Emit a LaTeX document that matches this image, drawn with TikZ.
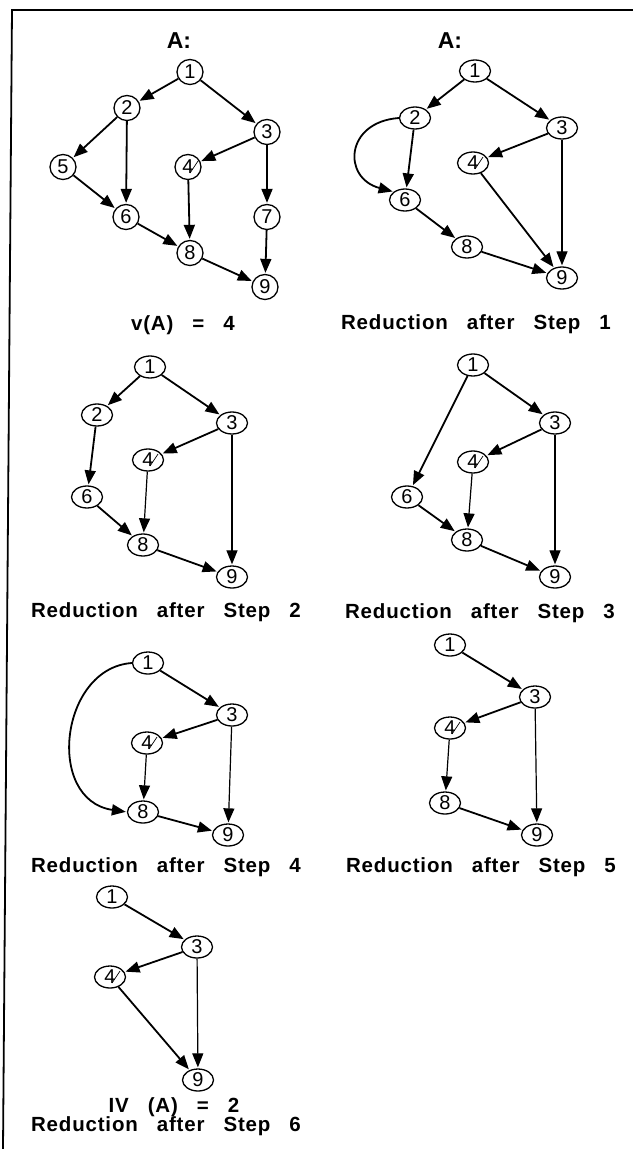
\documentclass[tikz,border=0pt]{standalone}
\usepackage{fontspec}
\setmainfont{Liberation Sans}
\newfontfamily\labfont[LetterSpace=4]{Liberation Sans}
\usetikzlibrary{shapes.geometric,arrows.meta}
\newcommand\crossout[1]{\draw[slashline] ([shift={(2,6)}]#1.center) -- ([shift={(10,-6)}]#1.center);}
\newcommand\wsp{\hspace{19pt}}
\begin{document}
\begin{tikzpicture}[x=1pt,y=-1pt,
 vtx/.style={draw,ellipse,line width=1.3pt,minimum width=31pt,minimum height=22pt,inner sep=0pt,font=\fontsize{20}{20}\selectfont},
 cvtx/.style={vtx,minimum width=26pt,minimum height=25pt},
 arr/.style={-{Triangle[length=14pt,width=11pt]},line width=1.8pt,shorten >=1pt},
 tarr/.style={arr,line width=1.2pt},
 lab/.style={anchor=base,font=\labfont\bfseries\fontsize{20.5}{22}\selectfont},
 ttl/.style={anchor=base,font=\bfseries\fontsize{23}{25}\selectfont},
 slashline/.style={line width=0.7pt}]
\useasboundingbox (0,0) rectangle (633,1149);
\draw[line width=1.8pt] (11,10) -- (633,10);
\draw[line width=1.8pt] (12,10) -- (3,1149);

% Panel 1
\node[ttl] (ta) at (179,48) {A:};
\node[cvtx] (a1) at (190,72) {1};
\node[cvtx] (a2) at (127,108) {2};
\node[cvtx] (a3) at (267,132) {3};
\node[cvtx] (a4) at (188,167) {4};
\node[cvtx] (a5) at (63,167) {5};
\node[cvtx] (a6) at (126,217) {6};
\node[cvtx] (a7) at (267,217) {7};
\node[cvtx] (a8) at (190,253) {8};
\node[cvtx] (a9) at (265,287) {9};
\crossout{a4}
\draw[arr] (a1) -- (a2);
\draw[arr] (a1) -- (a3);
\draw[arr] (a2) -- (a5);
\draw[arr] (a2) -- (a6);
\draw[arr] (a5) -- (a6);
\draw[arr] (a3) -- (a4);
\draw[arr] (a3) -- (a7);
\draw[arr] (a4) -- (a8);
\draw[arr] (a6) -- (a8);
\draw[arr] (a7) -- (a9);
\draw[arr] (a8) -- (a9);
\node[lab] (la) at (183,330) {v(A)\wsp=\wsp4};

% Panel 2
\node[ttl] (tb) at (450,48) {A:};
\node[vtx] (b1) at (475,71) {1};
\node[vtx] (b2) at (415,118) {2};
\node[vtx] (b3) at (562,128) {3};
\node[vtx] (b4) at (473,163) {4};
\node[vtx] (b6) at (405,200) {6};
\node[vtx] (b8) at (467,247) {8};
\node[vtx] (b9) at (562,278) {9};
\crossout{b4}
\draw[arr] (b1) -- (b2);
\draw[arr] (b1) -- (b3);
\draw[arr] (b2) -- (b6);
\draw[arr] (b2.west) .. controls (345,122) and (342,178) .. (b6.north west);
\draw[arr] (b3) -- (b4);
\draw[tarr] (b3) -- (b9);
\draw[arr] (b4) -- (b9);
\draw[arr] (b6) -- (b8);
\draw[arr] (b8) -- (b9);
\node[lab] (lb) at (476,329) {Reduction\wsp after\wsp Step\wsp 1};

% Panel 3
\node[vtx] (c1) at (150,367) {1};
\node[vtx] (c2) at (97,415) {2};
\node[vtx] (c3) at (232,423) {3};
\node[vtx] (c4) at (148,460) {4};
\node[vtx] (c6) at (87,497) {6};
\node[vtx] (c8) at (143,545) {8};
\node[vtx] (c9) at (232,577) {9};
\crossout{c4}
\draw[arr] (c1) -- (c2);
\draw[arr] (c1) -- (c3);
\draw[arr] (c2) -- (c6);
\draw[arr] (c3) -- (c4);
\draw[tarr] (c3) -- (c9);
\draw[tarr] (c4) -- (c8);
\draw[arr] (c6) -- (c8);
\draw[arr] (c8) -- (c9);
\node[lab] (lc) at (166,617) {Reduction\wsp after\wsp Step\wsp 2};

% Panel 4
\node[vtx] (d1) at (473,365) {1};
\node[vtx] (d3) at (555,423) {3};
\node[vtx] (d4) at (473,462) {4};
\node[vtx] (d6) at (407,497) {6};
\node[vtx] (d8) at (467,540) {8};
\node[vtx] (d9) at (555,577) {9};
\crossout{d4}
\draw[arr] (d1) -- (d3);
\draw[arr] (d1) -- (d6);
\draw[arr] (d3) -- (d4);
\draw[tarr] (d3) -- (d9);
\draw[tarr] (d4) -- (d8);
\draw[arr] (d6) -- (d8);
\draw[arr] (d8) -- (d9);
\node[lab] (ld) at (480,618) {Reduction\wsp after\wsp Step\wsp 3};

% Panel 5
\node[vtx] (e1) at (148,663) {1};
\node[vtx] (e3) at (232,715) {3};
\node[vtx] (e4) at (147,743) {4};
\node[vtx] (e8) at (143,812) {8};
\node[vtx] (e9) at (228,835) {9};
\crossout{e4}
\draw[arr] (e1) -- (e3);
\draw[arr] (e1.west) .. controls (60,668) and (45,800) .. (e8.west);
\draw[arr] (e3) -- (e4);
\draw[tarr] (e3) -- (e9);
\draw[tarr] (e4) -- (e8);
\draw[arr] (e8) -- (e9);
\node[lab] (le) at (166,872) {Reduction\wsp after\wsp Step\wsp 4};

% Panel 6
\node[vtx] (f1) at (450,645) {1};
\node[vtx] (f3) at (535,697) {3};
\node[vtx] (f4) at (450,728) {4};
\node[vtx] (f8) at (445,803) {8};
\node[vtx] (f9) at (537,835) {9};
\crossout{f4}
\draw[arr] (f1) -- (f3);
\draw[arr] (f3) -- (f4);
\draw[tarr] (f3) -- (f9);
\draw[tarr] (f4) -- (f8);
\draw[arr] (f8) -- (f9);
\node[lab] (lf) at (481,872) {Reduction\wsp after\wsp Step\wsp 5};

% Panel 7
\node[vtx] (g1) at (112,897) {1};
\node[vtx] (g3) at (197,947) {3};
\node[vtx] (g4) at (110,977) {4};
\node[vtx] (g9) at (198,1080) {9};
\crossout{g4}
\draw[arr] (g1) -- (g3);
\draw[arr] (g3) -- (g4);
\draw[tarr] (g3) -- (g9);
\draw[arr] (g4) -- (g9);
\node[lab] (lg1) at (174,1112) {IV\wsp(A)\wsp=\wsp2};
\node[lab] (lg2) at (166,1131) {Reduction\wsp after\wsp Step\wsp 6};
\end{tikzpicture}
\end{document}
